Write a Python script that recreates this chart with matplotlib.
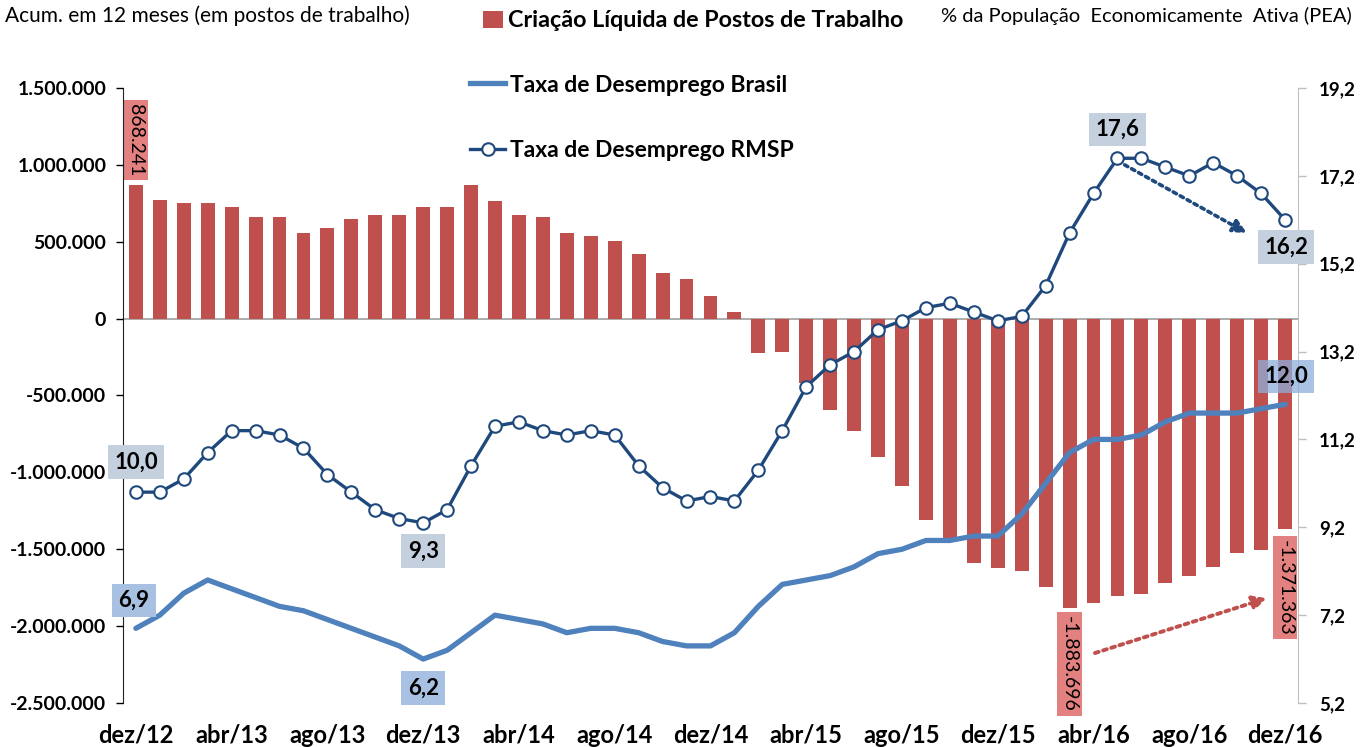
import matplotlib
matplotlib.use('Agg')
import matplotlib.pyplot as plt
from matplotlib.patches import Patch
from matplotlib.lines import Line2D

plt.rcParams['font.family'] = ['Lato', 'DejaVu Sans']

# ---------------- data ----------------
tick_labels = ['dez/12', 'abr/13', 'ago/13', 'dez/13', 'abr/14', 'ago/14', 'dez/14',
               'abr/15', 'ago/15', 'dez/15', 'abr/16', 'ago/16', 'dez/16']

criacao = [868241, 773000, 749000, 749000, 727000, 660000, 664000, 560000, 589000,
           649000, 677000, 677000, 727000, 727000, 866000, 766000, 671000, 660000,
           560000, 535000, 504000, 422000, 294000, 255000, 149000, 41000, -223000,
           -216000, -420000, -593000, -732000, -898000, -1086000, -1310000, -1440000,
           -1587000, -1625000, -1643000, -1747000, -1883696, -1849000, -1803000,
           -1788000, -1721000, -1671000, -1615000, -1522000, -1502000, -1371363]

brasil = [6.9, 7.2, 7.7, 8.0, 7.8, 7.6, 7.4, 7.3, 7.1, 6.9, 6.7, 6.5, 6.2, 6.4, 6.8, 7.2, 7.1,
          7.0, 6.8, 6.9, 6.9, 6.8, 6.6, 6.5, 6.5, 6.8, 7.4, 7.9, 8.0, 8.1, 8.3, 8.6, 8.7,
          8.9, 8.9, 9.0, 9.0, 9.5, 10.2, 10.9, 11.2, 11.2, 11.3, 11.6, 11.8, 11.8, 11.8, 11.9, 12.0]

rmsp = [10.0, 10.0, 10.3, 10.9, 11.4, 11.4, 11.3, 11.0, 10.4, 10.0, 9.6, 9.4, 9.3, 9.6, 10.6, 11.5, 11.6,
        11.4, 11.3, 11.4, 11.3, 10.6, 10.1, 9.8, 9.9, 9.8, 10.5, 11.4, 12.4, 12.9, 13.2, 13.7, 13.9,
        14.2, 14.3, 14.1, 13.9, 14.0, 14.7, 15.9, 16.8, 17.6, 17.6, 17.4, 17.2, 17.5, 17.2, 16.8, 16.2]

left_ticks = [1500000, 1000000, 500000, 0, -500000, -1000000, -1500000, -2000000, -2500000]
right_ticks = [5.2, 7.2, 9.2, 11.2, 13.2, 15.2, 17.2, 19.2]

x = list(range(len(criacao)))

RED = '#C0504D'
BLUE = '#4F81BD'
NAVY = '#1F497D'

fig = plt.figure(figsize=(13.6, 7.47), dpi=100)
ax = fig.add_axes([0.0904, 0.0589, 0.8640, 0.8233])
ax.set_axisbelow(False)

ax.axhline(0, color='#A6A6A6', lw=1.3, zorder=1)
ax.bar(x, criacao, width=0.58, color=RED, zorder=2)
ax.set_xlim(-0.54, 48.54)
ax.set_ylim(-2500000, 1500000)

def fmt_left(v):
    return f"{int(v):,}".replace(',', '.')

ax.set_yticks(left_ticks)
ax.set_yticklabels([fmt_left(v) for v in left_ticks], fontweight='bold', fontsize=14)
ax.tick_params(axis='y', direction='out', length=5, width=1, pad=7, colors='black')
ax.set_xticks(list(range(0, 49, 4)))
ax.set_xticklabels(tick_labels, fontweight='bold', fontsize=17)
ax.tick_params(axis='x', length=0, pad=15)
for s in ['top', 'bottom', 'right']:
    ax.spines[s].set_visible(False)
ax.spines['left'].set_color('#222222')

ax2 = ax.twinx()
ax2.set_ylim(5.2, 19.2)
ax2.plot(x, brasil, color=BLUE, lw=3.8, solid_joinstyle='round', solid_capstyle='round', zorder=3)
ax2.plot(x, rmsp, color=NAVY, lw=2.4, marker='o', ms=9, mfc='white', mec=NAVY, mew=1.5, zorder=4)
ax2.set_yticks(right_ticks)
ax2.set_yticklabels([f"{v:.1f}".replace('.', ',') for v in right_ticks], fontweight='bold', fontsize=13.5)
ax2.tick_params(axis='y', direction='out', length=6, width=1, pad=9, color='#BFBFBF', labelcolor='black')
for s in ['top', 'bottom', 'left']:
    ax2.spines[s].set_visible(False)
ax2.spines['right'].set_color('#BFBFBF')

PX = 0.72  # points per pixel

def label(axis, xi, yv, text, dx, dy, fc, rot=0, size=16, weight='bold', alpha=1.0, pad=0.28, z=6):
    axis.annotate(text, xy=(xi, yv), xytext=(dx * PX, -dy * PX), textcoords='offset points',
                  ha='center', va='center', rotation=rot, fontsize=size, fontweight=weight,
                  color='black', zorder=z,
                  bbox=dict(boxstyle=f'square,pad={pad}', fc=fc, ec='none', alpha=alpha))

GRAYBLUE = '#C5D0DF'
LIGHTBLUE = '#A8C1E3'
PINK = '#E38080'

label(ax2, 0, rmsp[0], '10,0', 0, -30, GRAYBLUE)
label(ax2, 12, rmsp[12], '9,3', 0, 28, GRAYBLUE)
label(ax2, 41, rmsp[41], '17,6', 0, -29, GRAYBLUE)
label(ax2, 48, rmsp[48], '16,2', 1, 27, GRAYBLUE)
label(ax2, 0, brasil[0], '6,9', -2, -28, LIGHTBLUE)
label(ax2, 12, brasil[12], '6,2', 0, 29, LIGHTBLUE)
label(ax2, 48, brasil[48], '12,0', 1, -28, '#8EAEDB', alpha=0.75)

label(ax, 0, criacao[0], '868.241', 0, -45, PINK, rot=-90, size=14, weight='normal', pad=0.2, z=2.2)
label(ax, 39, criacao[39], '-1.883.696', 0, 56, PINK, rot=-90, size=14, weight='normal', pad=0.2, z=2.2)
label(ax, 48, criacao[48], '-1.371.363', 0, 58, PINK, rot=-90, size=14, weight='normal', pad=0.2, z=2.2)

# trend arrows
ax2.annotate('', xy=(46.4, 15.9), xytext=(41.3, 17.45),
             arrowprops=dict(arrowstyle='-|>', color=NAVY, lw=2.6, linestyle=(0, (1, 1.2)),
                             mutation_scale=20, shrinkA=0, shrinkB=0), zorder=5)
ax.annotate('', xy=(47.24, -1818000), xytext=(40.06, -2175000),
            arrowprops=dict(arrowstyle='-|>', color=RED, lw=2.8, linestyle=(0, (1, 1.2)),
                            mutation_scale=20, shrinkA=0, shrinkB=0), zorder=5)

# legends
prop = {'weight': 'bold', 'size': 16.8}
fig.legend(handles=[Patch(facecolor=RED, edgecolor='none', label='Criação Líquida de Postos de Trabalho')],
           loc='center left', bbox_to_anchor=(0.3551, 0.9719), frameon=False, prop=prop,
           handlelength=0.86, handleheight=0.78, handletextpad=0.22, borderpad=0, borderaxespad=0)
prop2 = {'weight': 'bold', 'size': 16.5}
fig.legend(handles=[Line2D([], [], color=BLUE, lw=3.8, label='Taxa de Desemprego Brasil')],
           loc='center left', bbox_to_anchor=(0.3456, 0.8862), frameon=False, prop=prop2,
           handlelength=1.53, handletextpad=0.22, borderpad=0, borderaxespad=0)
fig.legend(handles=[Line2D([], [], color=NAVY, lw=2.4, marker='o', ms=9, mfc='white', mec=NAVY,
                           mew=1.5, label='Taxa de Desemprego RMSP')],
           loc='center left', bbox_to_anchor=(0.3456, 0.7979), frameon=False, prop=prop2,
           handlelength=1.53, handletextpad=0.22, borderpad=0, borderaxespad=0)

fig.text(0.004, 0.979, 'Acum. em 12 meses (em postos de trabalho)', ha='left', va='center', fontsize=15)
fig.text(0.994, 0.979, '% da População  Economicamente  Ativa (PEA)', ha='right', va='center', fontsize=14.5)

fig.savefig('out.png', dpi=100)
